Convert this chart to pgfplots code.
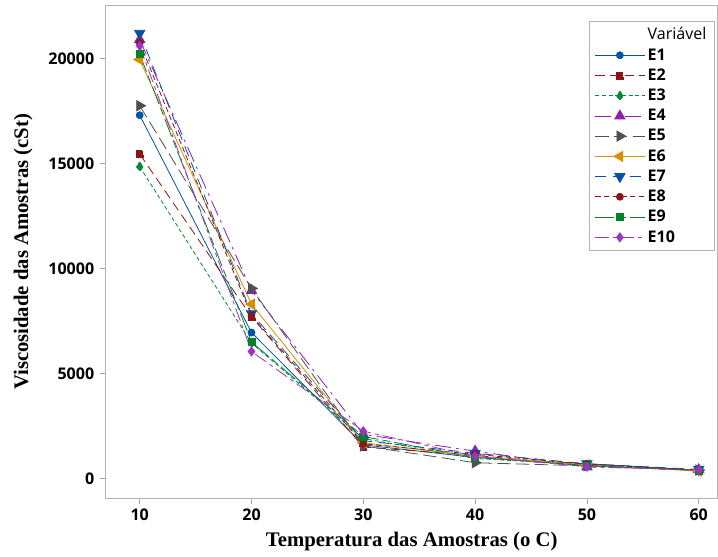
\documentclass[border=0pt]{standalone}
\usepackage{fontspec}
\setmainfont{Open Sans}
\newfontfamily\labelfont{Liberation Serif}
\usepackage{pgfplots}
\pgfplotsset{compat=1.18}

\definecolor{cE1}{RGB}{0,84,166}
\definecolor{cE2}{RGB}{140,20,20}
\definecolor{cE3}{RGB}{0,140,50}
\definecolor{cE4}{RGB}{140,30,180}
\definecolor{cE5}{RGB}{80,80,80}
\definecolor{cE6}{RGB}{220,140,0}
\definecolor{cE7}{RGB}{0,84,166}
\definecolor{cE8}{RGB}{140,20,20}
\definecolor{cE9}{RGB}{0,130,40}
\definecolor{cE10}{RGB}{160,50,200}

\pgfplotstableread{
T   E1    E2    E3    E4    E5    E6    E7    E8    E9    E10
10  17300 15450 14850 20900 17750 19950 21200 20750 20200 20600
20  6950  7700  6450  8950  9050  8300  7850  7750  6500  6050
30  1600  1500  1900  2100  1550  1700  1800  1650  2000  2250
40  1000  1100  950   1300  750   1050  1200  1150  1000  1050
50  700   600   650   550   600   650   700   680   620   560
60  400   380   370   420   400   350   430   390   380   400
}\visc

\begin{document}
\begin{tikzpicture}
\begin{axis}[
    name=ax,
    scale only axis,
    width=458pt, height=369pt,
    xmin=6.95, xmax=61.7,
    ymin=-955, ymax=22530,
    xtick={10,20,30,40,50,60},
    ytick={0,5000,10000,15000,20000},
    scaled y ticks=false,
    /pgf/number format/assume math mode=true,
    /pgf/number format/1000 sep={},
    ticklabel style={font=\bfseries\fontsize{12}{14}\selectfont},
    yticklabel style={xshift=-1pt},
    axis line style={gray!60},
    tick style={gray!70, thin},
    tick align=outside,
    major tick length=4pt,
    xtick pos=bottom, ytick pos=left,
    xlabel={\labelfont\bfseries Temperatura das Amostras (o C)},
    ylabel={\labelfont\bfseries Viscosidade das Amostras (cSt)},
    label style={font=\fontsize{15.5}{17}\selectfont},
    xlabel style={yshift=-2pt},
    ylabel style={yshift=5pt},
    legend cell align=left,
    legend style={at={(axis cs:61.43,21770)}, anchor=north east,
        draw=gray!60, font=\fontsize{12}{14}\selectfont\bfseries,
        row sep=1.0pt, inner xsep=4pt, inner ysep=2.5pt},
    legend image code/.code={\draw[mark repeat=2,mark phase=2] plot coordinates {(0cm,0cm)(0.65cm,0cm)(1.3cm,0cm)};},
    every axis plot/.append style={line width=0.6pt},
]
\addlegendimage{empty legend}\addlegendentry{\mdseries Variável\hspace{6pt}}
\addplot[cE1, mark=*, mark size=2.6pt, solid] table[x=T,y=E1]{\visc};
\addlegendentry{E1}
\addplot[cE2, mark=square*, mark size=2.6pt, dash pattern=on 7pt off 4pt] table[x=T,y=E2]{\visc};
\addlegendentry{E2}
\addplot[cE3, mark=diamond*, mark size=3.4pt, dash pattern=on 3pt off 2pt] table[x=T,y=E3]{\visc};
\addlegendentry{E3}
\addplot[cE4, mark=triangle*, mark size=4.4pt, mark options={solid}, dash pattern=on 12pt off 4pt on 2pt off 4pt] table[x=T,y=E4]{\visc};
\addlegendentry{E4}
\addplot[cE5, mark=triangle*, mark size=4.4pt, mark options={solid,rotate=-90}, dash pattern=on 10pt off 4pt] table[x=T,y=E5]{\visc};
\addlegendentry{E5}
\addplot[cE6, mark=triangle*, mark size=4.4pt, mark options={solid,rotate=90}, solid] table[x=T,y=E6]{\visc};
\addlegendentry{E6}
\addplot[cE7, mark=triangle*, mark size=4.4pt, mark options={solid,rotate=180}, dash pattern=on 8pt off 5pt] table[x=T,y=E7]{\visc};
\addlegendentry{E7}
\addplot[cE8, mark=*, mark size=2.6pt, mark options={solid}, dash pattern=on 4pt off 2.5pt] table[x=T,y=E8]{\visc};
\addlegendentry{E8}
\addplot[cE9, mark=square*, mark size=2.6pt, mark options={solid}, dash pattern=on 14pt off 3pt on 6pt off 3pt] table[x=T,y=E9]{\visc};
\addlegendentry{E9}
\addplot[cE10, mark=diamond*, mark size=3.4pt, mark options={solid}, dash pattern=on 10pt off 3pt on 3pt off 3pt] table[x=T,y=E10]{\visc};
\addlegendentry{E10}
\end{axis}
\path ([yshift=4pt]ax.north);
\path ([xshift=-79pt]ax.south west);
\path ([yshift=-43.5pt]ax.south west);
\end{tikzpicture}
\end{document}
